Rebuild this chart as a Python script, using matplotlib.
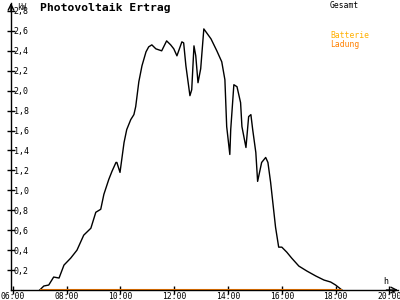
import matplotlib
matplotlib.use("Agg")
import matplotlib.pyplot as plt

# Data
times = ["07:00", "07:09", "07:20", "07:31", "07:43", "07:54", "08:09", "08:23", "08:38", "08:54",
         "09:05", "09:16", "09:23", "09:34", "09:41", "09:50", "09:52", "09:59", "10:08", "10:14",
         "10:23", "10:30", "10:34", "10:41", "10:48", "10:57", "11:03", "11:10", "11:19", "11:32",
         "11:43", "11:52", "11:59", "12:06", "12:17", "12:21", "12:26", "12:35", "12:39", "12:44",
         "12:48", "12:53", "12:59", "13:06", "13:22", "13:35", "13:46", "13:53", "13:57", "14:04",
         "14:06", "14:13", "14:20", "14:28", "14:31", "14:40", "14:46", "14:51", "14:55", "15:02",
         "15:06", "15:15", "15:24", "15:29", "15:35", "15:46", "15:53", "16:00", "16:11", "16:22",
         "16:38", "16:56", "17:16", "17:34", "17:49", "18:00", "18:14"]
gesamt = [0.00, 0.04, 0.05, 0.13, 0.12, 0.25, 0.32, 0.40, 0.55, 0.62,
          0.78, 0.81, 0.96, 1.11, 1.19, 1.28, 1.28, 1.18, 1.48, 1.61,
          1.71, 1.76, 1.84, 2.09, 2.25, 2.39, 2.44, 2.46, 2.42, 2.40,
          2.50, 2.46, 2.42, 2.35, 2.49, 2.48, 2.25, 1.95, 2.01, 2.45,
          2.35, 2.08, 2.22, 2.62, 2.52, 2.40, 2.29, 2.11, 1.64, 1.36,
          1.61, 2.06, 2.04, 1.88, 1.64, 1.43, 1.74, 1.76, 1.61, 1.38,
          1.09, 1.28, 1.33, 1.28, 1.08, 0.63, 0.43, 0.43, 0.38, 0.32,
          0.24, 0.19, 0.14, 0.10, 0.08, 0.05, 0.00]
ladung = [0.0] * len(times)

y_ticks = [0.2, 0.4, 0.6, 0.8, 1.0, 1.2, 1.4, 1.6, 1.8, 2.0, 2.2, 2.4, 2.6, 2.8]
y_labels = ["0,2", "0,4", "0,6", "0,8", "1,0", "1,2", "1,4", "1,6", "1,8", "2,0", "2,2", "2,4", "2,6", "2,8"]
x_ticks = [6, 8, 10, 12, 14, 16, 18, 20]
x_labels = ["06:00", "08:00", "10:00", "12:00", "14:00", "16:00", "18:00", "20:00"]


def to_hours(t):
    h, m = t.split(":")
    return int(h) + int(m) / 60.0


hours = [to_hours(t) for t in times]

MONO = "DejaVu Sans Mono"
ORANGE = "#ff8000"
YELLOW = "#ffb000"

fig = plt.figure(figsize=(4, 3), dpi=100)
ax = fig.add_axes([11 / 400, 10 / 300, 387 / 400, 287 / 300])
ax.set_xlim(5.93, 20.32)
ax.set_ylim(0, 2.88)

ax.plot(hours, gesamt, color="black", lw=1.0)
ax.plot(hours, ladung, color=ORANGE, lw=1.5, solid_capstyle="butt")

for s in ["top", "right"]:
    ax.spines[s].set_visible(False)
for s in ["left", "bottom"]:
    ax.spines[s].set_linewidth(1.0)
    ax.spines[s].set_color("black")

ax.set_yticks(y_ticks)
ax.set_yticklabels(y_labels, fontsize=6, family=MONO)
ax.set_xticks(x_ticks)
ax.set_xticklabels(x_labels, fontsize=5.8, family=MONO)
ax.tick_params(axis="both", direction="inout", length=6, width=1)
ax.tick_params(axis="y", pad=-5)
ax.tick_params(axis="x", pad=-1.8)
for lab in ax.get_yticklabels():
    lab.set_horizontalalignment("left")

# axis arrows
ax.annotate("", xy=(1.0, 0), xytext=(0.97, 0), xycoords=("axes fraction", "data"),
            arrowprops=dict(arrowstyle="->", lw=1, color="black", shrinkA=0, shrinkB=0))
ax.annotate("", xy=(5.93, 1.0), xytext=(5.93, 0.97), xycoords=("data", "axes fraction"),
            arrowprops=dict(arrowstyle="->", lw=1, color="black", shrinkA=0, shrinkB=0))

ax.text(0.016, 1.0, "kW", transform=ax.transAxes, fontsize=5.5, family=MONO, va="top", ha="left")
ax.text(0.969, 0.028, "h", transform=ax.transAxes, fontsize=6, family=MONO, va="center", ha="center")

fig.text(40 / 400, 1 - 8 / 300, "Photovoltaik Ertrag", fontsize=8.2, family=MONO,
         fontweight="bold", va="center", ha="left")
fig.text(330 / 400, 1 - 5 / 300, "Gesamt", fontsize=5.8, family=MONO, color="black", va="center", ha="left")
fig.text(330 / 400, 1 - 36 / 300, "Batterie", fontsize=5.8, family=MONO, color=YELLOW, va="center", ha="left")
fig.text(330 / 400, 1 - 44 / 300, "Ladung", fontsize=5.8, family=MONO, color=ORANGE, va="center", ha="left")

fig.savefig("out.png", dpi=100, facecolor="white")
